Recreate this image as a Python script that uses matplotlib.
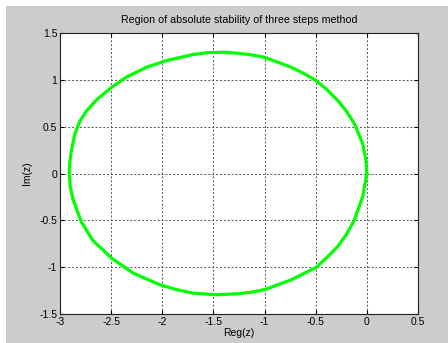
import matplotlib
matplotlib.use('Agg')
import matplotlib.pyplot as plt
from matplotlib.patches import Rectangle

# boundary of the stability region
re_z = [0.0, -0.009, -0.041, -0.122, -0.2, -0.285, -0.39, -0.497, -0.62, -0.74,
        -1.0, -1.13, -1.262, -1.405, -1.55, -1.70, -1.96, -2.153, -2.35,
        -2.495, -2.64, -2.74, -2.805, -2.853, -2.886, -2.905, -2.91,
        -2.9, -2.87, -2.79, -2.675, -2.495, -2.284, -2.023, -1.86,
        -1.70, -1.47, -1.262, -1.13, -1.0, -0.74, -0.62, -0.497, -0.39,
        -0.285, -0.2, -0.122, -0.041, 0.0]
im_z = [0.0, 0.141, 0.319, 0.532, 0.665, 0.78, 0.895, 0.993, 1.07, 1.135,
        1.24, 1.267, 1.284, 1.295, 1.29, 1.27, 1.205, 1.135, 1.03,
        0.92, 0.79, 0.67, 0.56, 0.43, 0.26, 0.12, 0.0,
        -0.14, -0.284, -0.52, -0.72, -0.904, -1.064, -1.188, -1.24,
        -1.277, -1.295, -1.284, -1.267, -1.24, -1.135, -1.07, -1.003, -0.895,
        -0.78, -0.65, -0.497, -0.248, 0.0]

x_ticks = [-3, -2.5, -2, -1.5, -1, -0.5, 0, 0.5]
y_ticks = [-1.5, -1, -0.5, 0, 0.5, 1, 1.5]

plt.rcParams['font.family'] = ['Liberation Sans', 'DejaVu Sans']
plt.rcParams['font.size'] = 7.5

fig = plt.figure(figsize=(4.48, 3.43), dpi=100, facecolor='white')
# grey window area of the screenshot
fig.patches.append(Rectangle((6 / 448, 0), 1, 1 - 6 / 343, transform=fig.transFigure,
                             facecolor='#cccccc', edgecolor='none', zorder=-1))

ax = fig.add_axes([60 / 448, 1 - 314 / 343, 358 / 448, 281 / 343])
ax.set_facecolor('white')
ax.plot(re_z, im_z, color='#00ff00', linewidth=2.3, zorder=3,
        solid_joinstyle='round', solid_capstyle='round')

ax.set_xlim(-3, 0.5)
ax.set_ylim(-1.5, 1.5)
ax.set_xticks(x_ticks)
ax.set_yticks(y_ticks)
ax.set_xticklabels([('%g' % v) for v in x_ticks])
ax.set_yticklabels([('%g' % v) for v in y_ticks])
ax.tick_params(direction='in', length=3, width=0.8, top=True, right=True,
               labelsize=7.5, pad=2)
ax.grid(True, color='#555555', linestyle=(0, (2, 2)), linewidth=0.7)
for sp in ax.spines.values():
    sp.set_linewidth(0.8)
    sp.set_color('#222222')

ax.set_title('Region of absolute stability of three steps method', fontsize=7.7, pad=7)
ax.set_xlabel('Reg(z)', labelpad=1)
ax.set_ylabel('Im(z)', labelpad=5)

fig.savefig('out.png', dpi=100, facecolor=fig.get_facecolor())
